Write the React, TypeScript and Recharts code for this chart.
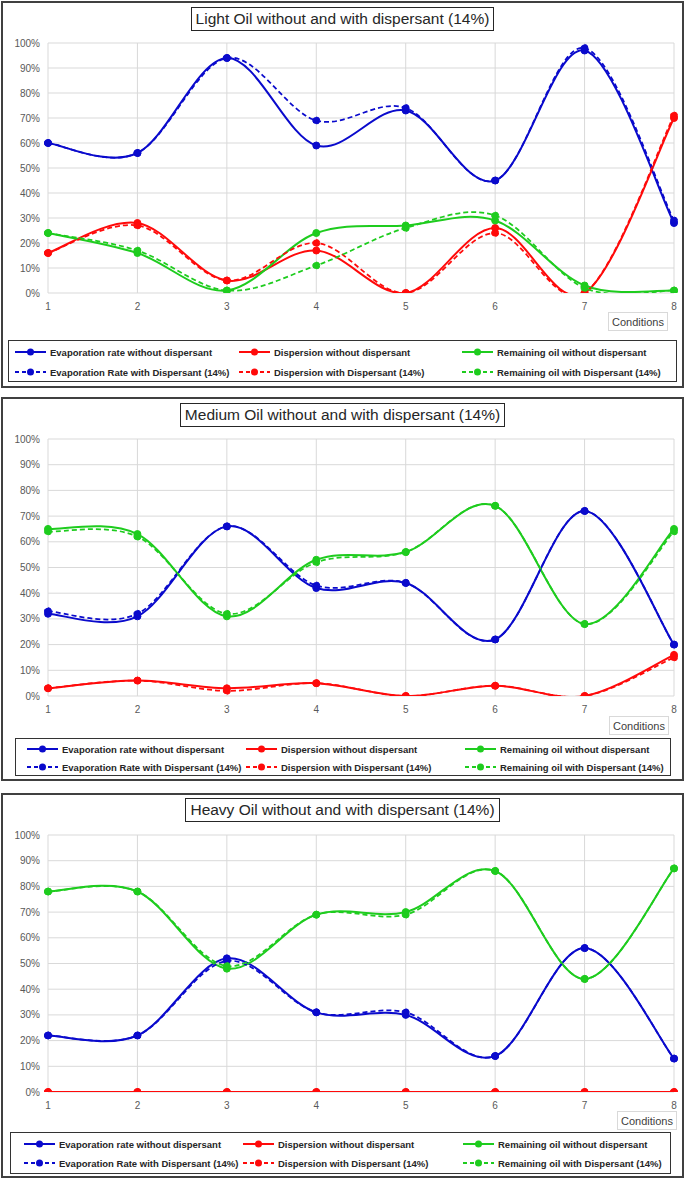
import React from 'react';
import { LineChart, Line, XAxis, YAxis, CartesianGrid } from 'recharts';

// ---------- data ----------
const conditions = [1, 2, 3, 4, 5, 6, 7, 8];
const yTicks = [0, 10, 20, 30, 40, 50, 60, 70, 80, 90, 100];

const lightEvapWithout = [60, 56, 94, 59, 73, 45, 97, 28];
const lightEvapWith = [60, 56, 94, 69, 74, 45, 98, 29];
const lightDispWithout = [16, 28, 5, 17, 0, 26, 0, 70];
const lightDispWith = [16, 27, 5, 20, 0, 24, 0, 71];
const lightRemWithout = [24, 16, 1, 24, 27, 29, 3, 1];
const lightRemWith = [24, 17, 1, 11, 26, 31, 2, 1];

const mediumEvapWithout = [32, 31, 66, 42, 44, 22, 72, 20];
const mediumEvapWith = [33, 32, 66, 43, 44, 22, 72, 20];
const mediumDispWithout = [3, 6, 3, 5, 0, 4, 0, 16];
const mediumDispWith = [3, 6, 2, 5, 0, 4, 0, 15];
const mediumRemWithout = [65, 63, 31, 53, 56, 74, 28, 65];
const mediumRemWith = [64, 62, 32, 52, 56, 74, 28, 64];

const heavyEvapWithout = [22, 22, 52, 31, 30, 14, 56, 13];
const heavyEvapWith = [22, 22, 51, 31, 31, 14, 56, 13];
const heavyDispWithout = [0, 0, 0, 0, 0, 0, 0, 0];
const heavyDispWith = [0, 0, 0, 0, 0, 0, 0, 0];
const heavyRemWithout = [78, 78, 48, 69, 70, 86, 44, 87];
const heavyRemWith = [78, 78, 49, 69, 69, 86, 44, 87];

const titles = [
  'Light Oil without and with dispersant (14%)',
  'Medium Oil without and with dispersant (14%)',
  'Heavy Oil without and with dispersant (14%)',
];
const seriesNames = [
  'Evaporation rate without dispersant',
  'Dispersion without dispersant',
  'Remaining oil without dispersant',
  'Evaporation Rate with Dispersant (14%)',
  'Dispersion with Dispersant (14%)',
  'Remaining oil with Dispersant (14%)',
];
const xAxisTitle = 'Conditions';

// ---------- style ----------
const BLUE = '#0A0ACC';
const RED = '#FF0A0A';
const GREEN = '#1ECC1E';
const FONT = '"Liberation Sans", Arial, sans-serif';

const seriesDefs = [
  { key: 'ev0', color: BLUE, dashed: false },
  { key: 'di0', color: RED, dashed: false },
  { key: 're0', color: GREEN, dashed: false },
  { key: 'ev1', color: BLUE, dashed: true },
  { key: 'di1', color: RED, dashed: true },
  { key: 're1', color: GREEN, dashed: true },
];

// Catmull-Rom style smoothing (similar to Excel smoothed lines)
const smoothCurve: any = (context: any) => {
  let pts: number[][] = [];
  return {
    areaStart() {},
    areaEnd() {},
    lineStart() {
      pts = [];
    },
    point(x: number, y: number) {
      pts.push([+x, +y]);
    },
    lineEnd() {
      const n = pts.length;
      if (!n) return;
      context.moveTo(pts[0][0], pts[0][1]);
      for (let i = 0; i < n - 1; i++) {
        const p0 = pts[i - 1] || pts[i];
        const p1 = pts[i];
        const p2 = pts[i + 1];
        const p3 = pts[i + 2] || pts[i + 1];
        const c1x = p1[0] + (p2[0] - p0[0]) / 6;
        const c1y = p1[1] + (p2[1] - p0[1]) / 6;
        const c2x = p2[0] - (p3[0] - p1[0]) / 6;
        const c2y = p2[1] - (p3[1] - p1[1]) / 6;
        context.bezierCurveTo(c1x, c1y, c2x, c2y, p2[0], p2[1]);
      }
    },
  };
};

type PanelCfg = {
  title: string;
  top: number;
  height: number;
  chartHeight: number;
  titleTop: number;
  cond: { left: number; top: number; width: number; height: number };
  legend: { left: number; top: number; width: number; height: number; cols: number[]; rows: number[] };
  values: number[][];
};

const panels: PanelCfg[] = [
  {
    title: titles[0],
    top: 1,
    height: 387,
    chartHeight: 320,
    titleTop: 4,
    cond: { left: 605, top: 309, width: 60, height: 19 },
    legend: { left: 5, top: 337, width: 669, height: 42, cols: [6, 230, 453], rows: [11, 31] },
    values: [lightEvapWithout, lightDispWithout, lightRemWithout, lightEvapWith, lightDispWith, lightRemWith],
  },
  {
    title: titles[1],
    top: 397,
    height: 384,
    chartHeight: 327,
    titleTop: 4,
    cond: { left: 606, top: 317, width: 60, height: 19 },
    legend: { left: 12, top: 339, width: 656, height: 38, cols: [11, 230, 449], rows: [10, 28] },
    values: [mediumEvapWithout, mediumDispWithout, mediumRemWithout, mediumEvapWith, mediumDispWith, mediumRemWith],
  },
  {
    title: titles[2],
    top: 793,
    height: 385,
    chartHeight: 327,
    titleTop: 3,
    cond: { left: 614, top: 316, width: 60, height: 19 },
    legend: { left: 7, top: 337, width: 661, height: 42, cols: [13, 232, 452], rows: [11, 30] },
    values: [heavyEvapWithout, heavyDispWithout, heavyRemWithout, heavyEvapWith, heavyDispWith, heavyRemWith],
  },
];

const LegendIcon = ({ color, dashed }: { color: string; dashed: boolean }) => (
  <svg width={31} height={10} style={{ display: 'block' }}>
    <line x1={0} y1={5} x2={31} y2={5} stroke={color} strokeWidth={2} strokeDasharray={dashed ? '4 3' : undefined} />
    <circle cx={15.5} cy={5} r={3.5} fill={color} />
  </svg>
);

const Panel = ({ cfg }: { cfg: PanelCfg }) => {
  const data = conditions.map((c, i) => {
    const row: any = { c };
    seriesDefs.forEach((s, k) => {
      row[s.key] = cfg.values[k][i];
    });
    return row;
  });
  return (
    <div
      style={{
        position: 'absolute',
        left: 1,
        top: cfg.top,
        width: 683,
        height: cfg.height,
        border: '2px solid #404040',
        boxSizing: 'border-box',
        background: '#fff',
        fontFamily: FONT,
      }}
    >
      <div style={{ position: 'absolute', left: 0, top: 0 }}>
        <LineChart width={679} height={cfg.chartHeight} data={data} margin={{ top: 40, right: 8, bottom: 0, left: 0 }}>
          <CartesianGrid stroke="#d9d9d9" strokeWidth={1} />
          <XAxis
            dataKey="c"
            type="number"
            domain={[1, 8]}
            ticks={conditions}
            interval={0}
            axisLine={false}
            tickLine={false}
            tickMargin={4}
            height={30}
            tick={{ fontSize: 10, fill: '#595959', fontFamily: FONT }}
          />
          <YAxis
            type="number"
            domain={[0, 100]}
            ticks={yTicks}
            interval={0}
            allowDataOverflow
            width={45}
            axisLine={false}
            tickLine={false}
            tickFormatter={(v: number) => `${v}%`}
            tick={{ fontSize: 10, fill: '#595959', fontFamily: FONT }}
          />
          {seriesDefs.map((s, k) => (
            <Line
              key={s.key}
              dataKey={s.key}
              name={seriesNames[k]}
              type={smoothCurve}
              stroke={s.color}
              strokeWidth={s.dashed ? 1.75 : 2}
              strokeDasharray={s.dashed ? '5 3' : undefined}
              dot={{ r: 3.5, fill: s.color, stroke: s.color, strokeWidth: 1 }}
              activeDot={false}
              isAnimationActive={false}
            />
          ))}
        </LineChart>
      </div>
      <div
        style={{
          position: 'absolute',
          left: 0,
          right: 0,
          top: cfg.titleTop,
          display: 'flex',
          justifyContent: 'center',
        }}
      >
        <div
          style={{
            border: '1px solid #262626',
            padding: '2px 4px',
            fontSize: 15.5,
            lineHeight: '18px',
            color: '#262626',
            whiteSpace: 'nowrap',
          }}
        >
          {cfg.title}
        </div>
      </div>
      <div
        style={{
          position: 'absolute',
          left: cfg.cond.left,
          top: cfg.cond.top,
          width: cfg.cond.width,
          height: cfg.cond.height,
          border: '1px solid #d9d9d9',
          boxSizing: 'border-box',
          fontSize: 11,
          color: '#404040',
          display: 'flex',
          alignItems: 'center',
          justifyContent: 'center',
        }}
      >
        {xAxisTitle}
      </div>
      <div
        style={{
          position: 'absolute',
          left: cfg.legend.left,
          top: cfg.legend.top,
          width: cfg.legend.width,
          height: cfg.legend.height,
          border: '1.5px solid #333',
          boxSizing: 'border-box',
        }}
      >
        {seriesDefs.map((s, k) => (
          <div
            key={s.key}
            style={{
              position: 'absolute',
              left: cfg.legend.cols[k % 3],
              top: cfg.legend.rows[Math.floor(k / 3)] - 7,
              height: 14,
              display: 'flex',
              alignItems: 'center',
              whiteSpace: 'nowrap',
            }}
          >
            <LegendIcon color={s.color} dashed={s.dashed} />
            <span style={{ marginLeft: 4, fontSize: 9.5, fontWeight: 'bold', color: '#262626' }}>{seriesNames[k]}</span>
          </div>
        ))}
      </div>
    </div>
  );
};

export default function App() {
  return (
    <div style={{ position: 'absolute', left: 0, top: 0, width: 685, height: 1179, background: '#fff' }}>
      {panels.map((p, i) => (
        <Panel key={i} cfg={p} />
      ))}
    </div>
  );
}
